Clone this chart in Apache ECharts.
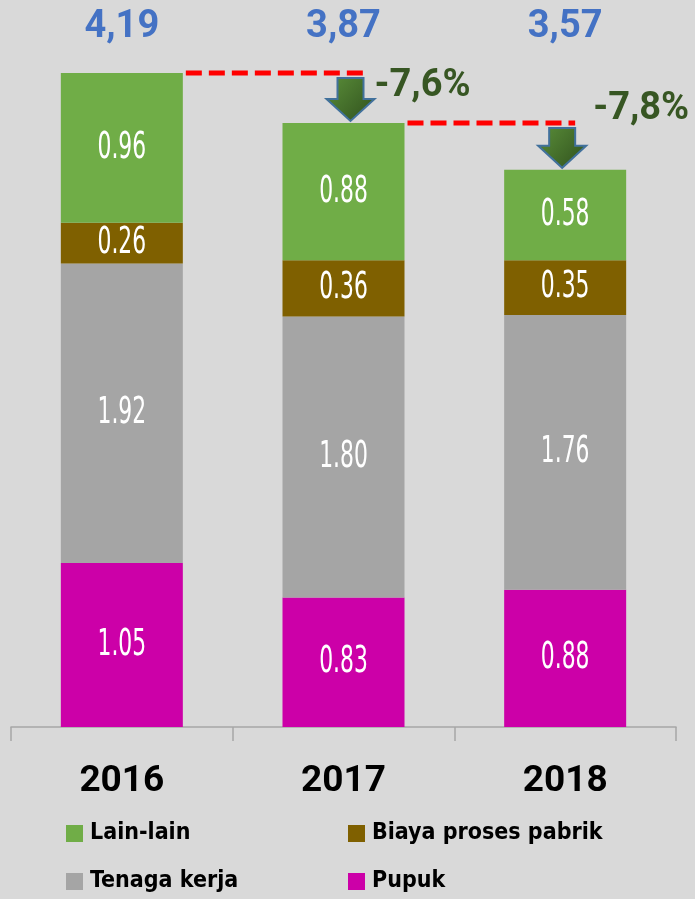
<!DOCTYPE html>
<html>
<head>
<meta charset="utf-8">
<script src="https://cdn.jsdelivr.net/npm/echarts@6/dist/echarts.min.js"></script>
<style>
html,body{margin:0;padding:0;background:#D9D9D9;}
#main{width:695px;height:899px;}
</style>
</head>
<body>
<div id="main"></div>
<script>
const categories = ['2016', '2017', '2018'];
const lainLain = [0.96, 0.88, 0.58];
const biayaProses = [0.26, 0.36, 0.35];
const tenagaKerja = [1.92, 1.80, 1.76];
const pupuk = [1.05, 0.83, 0.88];
const totals = [4.19, 3.87, 3.57];
const changeLabels = ['-7,6%', '-7,8%'];

const COND = "'Liberation Sans Narrow','DejaVu Sans Condensed',sans-serif";
const BAR_W = 122;
const stackOrder = [pupuk, tenagaKerja, biayaProses, lainLain];

const chart = echarts.init(document.getElementById('main'));

function seg(name, data, color) {
  return {
    name: name, type: 'bar', stack: 'total', data: data, barWidth: BAR_W,
    itemStyle: { color: color }, label: { show: false }
  };
}

function legendAt(name, left, top) {
  return {
    left: left, top: top, padding: 0, itemWidth: 17, itemHeight: 17, itemGap: 0,
    icon: 'rect', selectedMode: false,
    textStyle: { fontFamily: COND, fontWeight: 'bold', fontSize: 23, color: '#000000', padding: [0, 0, 0, 2] },
    data: [name]
  };
}

chart.setOption({
  backgroundColor: '#D9D9D9',
  animation: false,
  grid: { left: 11, right: 19, top: 73, bottom: 172 },
  xAxis: {
    type: 'category', data: categories, boundaryGap: true,
    axisLine: { show: true, lineStyle: { color: '#A6A6A6', width: 1.5 } },
    axisTick: { show: true, interval: 0, alignWithLabel: false, length: 14, lineStyle: { color: '#A6A6A6', width: 1.5 } },
    axisLabel: { margin: 36, fontFamily: 'Roboto', fontWeight: 'bold', fontSize: 37, color: '#000000' }
  },
  yAxis: { type: 'value', min: 0, max: 4.19, show: false, splitLine: { show: false } },
  legend: [
    legendAt('Lain-lain', 66, 822),
    legendAt('Biaya proses pabrik', 348, 822),
    legendAt('Tenaga kerja', 66, 870),
    legendAt('Pupuk', 348, 870)
  ],
  series: [
    seg('Pupuk', pupuk, '#CC00A8'),
    seg('Tenaga kerja', tenagaKerja, '#A5A5A5'),
    seg('Biaya proses pabrik', biayaProses, '#7F6000'),
    seg('Lain-lain', lainLain, '#70AD47'),
    {
      name: 'labels', type: 'custom', data: totals.map((t, i) => [i, t]),
      encode: { x: 0, y: 1 }, z: 5, silent: true,
      renderItem: function (params, api) {
        const i = params.dataIndex;
        let cum = 0;
        const children = [];
        stackOrder.forEach(arr => {
          const v = arr[i];
          const p = api.coord([i, cum + v / 2]);
          cum += v;
          children.push({
            type: 'text', x: p[0], y: p[1], scaleX: 0.64,
            style: { text: v.toFixed(2), fill: '#FFFFFF', font: "38px 'DejaVu Sans Condensed'",
              textAlign: 'center', textVerticalAlign: 'middle' }
          });
        });
        return { type: 'group', children: children };
      }
    }
  ]
});

const px = (i, v) => chart.convertToPixel({ xAxisIndex: 0, yAxisIndex: 0 }, [i, v]);
const graphics = [];
categories.forEach((c, i) => {
  graphics.push({
    type: 'text', x: px(i, 0)[0], y: 27,
    style: { text: totals[i].toFixed(2).replace('.', ','), fill: '#4472C4',
      font: "bold 38px Roboto", textAlign: 'center', textVerticalAlign: 'middle' },
    z: 10
  });
});
const lineEndOff = [24, 10];
const arrowOff = [7, -3];
const pctOff = [[24, 13], [31, -13]];
for (let i = 0; i < changeLabels.length; i++) {
  const yPrev = px(i, totals[i])[1];
  const yNext = px(i + 1, totals[i + 1])[1];
  const xPrev = px(i, 0)[0];
  const xNext = px(i + 1, 0)[0];
  graphics.push({
    type: 'line', shape: { x1: xPrev + BAR_W / 2 + 3, y1: yPrev, x2: xNext + lineEndOff[i], y2: yPrev },
    style: { stroke: '#FF0000', lineWidth: 5, lineDash: [16, 7] }, z: 10
  });
  const ax = xNext + arrowOff[i];
  const top = yPrev + 5, tip = yNext - 2, headH = 22, sw = 13, hw = 24;
  graphics.push({
    type: 'polygon',
    shape: { points: [[ax - sw, top], [ax + sw, top], [ax + sw, tip - headH], [ax + hw, tip - headH],
      [ax, tip], [ax - hw, tip - headH], [ax - sw, tip - headH]] },
    style: {
      fill: new echarts.graphic.LinearGradient(0, 0, 1, 1, [
        { offset: 0, color: '#5B8F3A' }, { offset: 1, color: '#2F4F1C' }]),
      stroke: '#41719C', lineWidth: 2
    }, z: 11
  });
  graphics.push({
    type: 'text', x: ax + pctOff[i][0], y: yPrev + pctOff[i][1],
    style: { text: changeLabels[i], fill: '#375623', font: "bold 38px Roboto",
      textAlign: 'left', textVerticalAlign: 'middle' }, z: 12
  });
}
chart.setOption({ graphic: graphics });
</script>
</body>
</html>
